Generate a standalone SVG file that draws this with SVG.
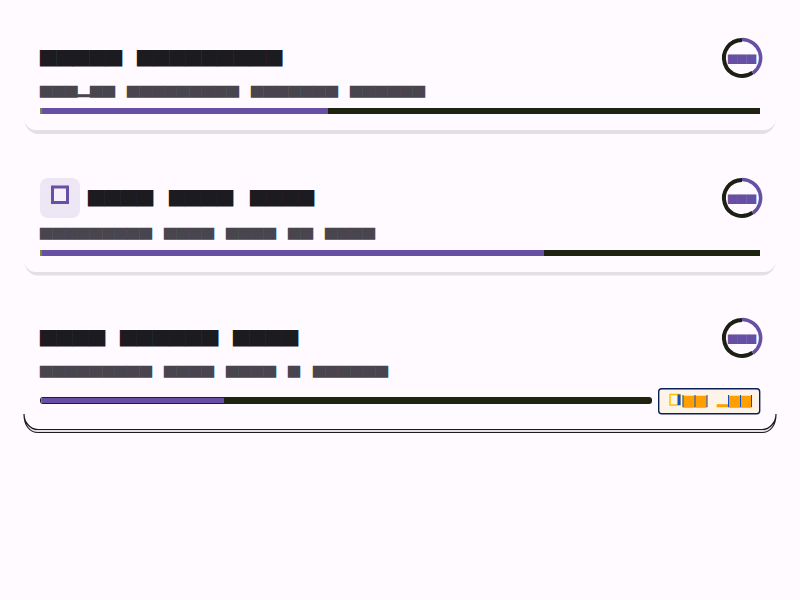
<svg xmlns="http://www.w3.org/2000/svg" width="800" height="600" viewBox="0 0 800 600">
<style>
text{font-family:"DejaVu Sans Mono",monospace;white-space:pre}
.t{font-size:14px;fill:#1c1b1f}
.s{font-size:10px;fill:#49454f}
.r{font-size:8px;fill:#6750a4}
.b{font-size:10px;fill:#ffa000}
.track{fill:#1f2410}
.fill{fill:#6750a4}
.cap{fill:#7a8a3c}
.ring{fill:none;stroke:#1c2012;stroke-width:4}
.arc{fill:none;stroke:#6750a4;stroke-width:3.500}
.edge{fill:#e3dfe5}
.bl{fill:#0b4fd0}
</style>
<rect width="800" height="600" fill="#fffaff"/>
<g id="card1">
<path class="edge" d="M24 118A14 16 0 0 0 38 134H762A14 16 0 0 0 776 118A12 12 0 0 1 764 130H36A12 12 0 0 1 24 118Z"/>
<text class="t" x="40" y="63" textLength="82" lengthAdjust="spacingAndGlyphs">█████</text>
<text class="t" x="137" y="63" textLength="145" lengthAdjust="spacingAndGlyphs">█████████</text>
<text class="s" x="40" y="95" textLength="75" lengthAdjust="spacingAndGlyphs">███▂██</text>
<text class="s" x="127" y="95" textLength="112" lengthAdjust="spacingAndGlyphs">█████████</text>
<text class="s" x="251" y="95" textLength="87" lengthAdjust="spacingAndGlyphs">███████</text>
<text class="s" x="350" y="95" textLength="75" lengthAdjust="spacingAndGlyphs">██████</text>
<rect class="track" x="40" y="108" width="720" height="6"/>
<rect class="fill" x="42" y="108" width="286" height="6"/>
<rect class="cap" x="40" y="108" width="2" height="6"/>
<path class="ring" d="M752.600 72.500A18 18 0 1 1 742 40"/>
<path class="arc" d="M742 39.500A18.500 18.500 0 0 1 753 73"/>
<text class="r" x="728" y="61.500" textLength="28" lengthAdjust="spacingAndGlyphs">███</text>
</g>
<g id="card2">
<path class="edge" d="M24 260A14 15.500 0 0 0 38 275.500H762A14 15.500 0 0 0 776 260A12 12 0 0 1 764 272H36A12 12 0 0 1 24 260Z"/>
<rect x="40" y="178" width="40" height="40" rx="8" fill="#ede7f5"/>
<rect x="52.500" y="187" width="15" height="15.500" fill="#f5f0f9" stroke="#6750a4" stroke-width="3"/>
<text class="t" x="88" y="203" textLength="65" lengthAdjust="spacingAndGlyphs">████</text>
<text class="t" x="169" y="203" textLength="64" lengthAdjust="spacingAndGlyphs">████</text>
<text class="t" x="250" y="203" textLength="64" lengthAdjust="spacingAndGlyphs">████</text>
<text class="s" x="40" y="237" textLength="112" lengthAdjust="spacingAndGlyphs">█████████</text>
<text class="s" x="164" y="237" textLength="50" lengthAdjust="spacingAndGlyphs">████</text>
<text class="s" x="226" y="237" textLength="50" lengthAdjust="spacingAndGlyphs">████</text>
<text class="s" x="288" y="237" textLength="25" lengthAdjust="spacingAndGlyphs">██</text>
<text class="s" x="325" y="237" textLength="50" lengthAdjust="spacingAndGlyphs">████</text>
<rect class="track" x="40" y="250" width="720" height="6"/>
<rect class="fill" x="42" y="250" width="502" height="6"/>
<rect class="cap" x="40" y="250" width="2" height="6"/>
<path class="ring" d="M752.600 212.500A18 18 0 1 1 742 180"/>
<path class="arc" d="M742 179.500A18.500 18.500 0 0 1 753 213"/>
<text class="r" x="728" y="201.500" textLength="28" lengthAdjust="spacingAndGlyphs">███</text>
</g>
<g id="card3">
<path d="M24 414C24 426 30 432.500 38 432.500H762C770 432.500 776 426 776 414C776 422 770 429.500 762 429.500H38C30 429.500 24 422 24 414Z" fill="#e3dfe5" stroke="#1c1b1f" stroke-width="1.200"/>
<text class="t" x="40" y="343" textLength="65" lengthAdjust="spacingAndGlyphs">████</text>
<text class="t" x="120" y="343" textLength="98" lengthAdjust="spacingAndGlyphs">██████</text>
<text class="t" x="233" y="343" textLength="65" lengthAdjust="spacingAndGlyphs">████</text>
<text class="s" x="40" y="375" textLength="112" lengthAdjust="spacingAndGlyphs">█████████</text>
<text class="s" x="164" y="375" textLength="50" lengthAdjust="spacingAndGlyphs">████</text>
<text class="s" x="226" y="375" textLength="50" lengthAdjust="spacingAndGlyphs">████</text>
<text class="s" x="288" y="375" textLength="12" lengthAdjust="spacingAndGlyphs">█</text>
<text class="s" x="313" y="375" textLength="75" lengthAdjust="spacingAndGlyphs">██████</text>
<rect class="track" x="40" y="397" width="612" height="7" rx="3"/>
<rect class="fill" x="42" y="398" width="182" height="5"/>
<rect class="cap" x="41" y="398" width="1" height="5"/>
<path class="ring" d="M752.600 352.500A18 18 0 1 1 742 320"/>
<path class="arc" d="M742 319.500A18.500 18.500 0 0 1 753 353"/>
<text class="r" x="728" y="341.500" textLength="28" lengthAdjust="spacingAndGlyphs">███</text>
<rect x="658.700" y="388.700" width="101" height="25" rx="3" fill="#fdf3e7" stroke="#0a1f5c" stroke-width="1.400"/>
<text class="b" x="683" y="404.500" textLength="24" lengthAdjust="spacingAndGlyphs">██</text>
<text class="b" x="717" y="404.500" textLength="34.500" lengthAdjust="spacingAndGlyphs">▂██</text>
<rect class="bl" x="682.500" y="395" width="1" height="12"/>
<rect class="bl" x="694.500" y="395" width="1" height="12"/>
<rect class="bl" x="706.500" y="395" width="1" height="12"/>
<rect class="bl" x="728" y="395" width="1" height="12"/>
<rect class="bl" x="740" y="395" width="1" height="12"/>
<rect class="bl" x="751" y="395" width="1" height="12"/>
<rect x="670" y="394.500" width="10" height="10.500" fill="#fdf3e7" stroke="#ffc000" stroke-width="1.500"/>
<rect class="bl" x="677.500" y="394.500" width="3" height="10.500"/>
</g>
</svg>
